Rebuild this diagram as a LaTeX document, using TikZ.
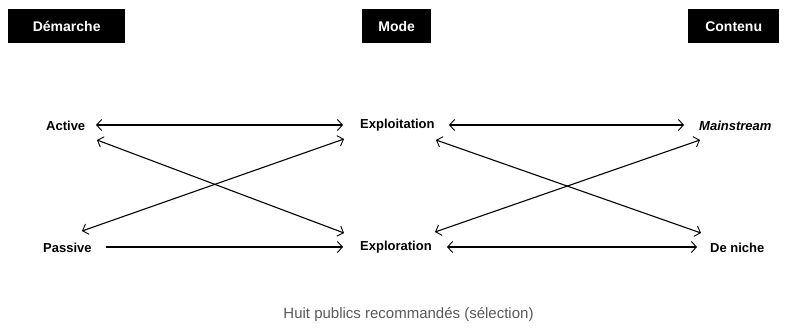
\documentclass[tikz,border=0pt]{standalone}
\usepackage{fontspec}
\setmainfont{Liberation Sans}
\usetikzlibrary{arrows.meta}
\tikzset{
  header/.style={fill=black, text=white, font=\fontsize{14}{16}\selectfont\bfseries, inner sep=0pt, anchor=north west},
  lbl/.style={font=\fontsize{13}{15}\selectfont\bfseries, inner sep=0pt},
  link/.style={line width=1.1pt, black, {Straight Barb[length=5pt,width=11pt,line width=0.9pt]}-{Straight Barb[length=5pt,width=11pt,line width=0.9pt]}},
  onelink/.style={line width=1.1pt, black, -{Straight Barb[length=5pt,width=11pt,line width=0.9pt]}},
  caption/.style={font=\fontsize{15}{17}\selectfont, text=black!65, inner sep=0pt}
}
\begin{document}
\begin{tikzpicture}[x=1pt,y=-1pt]
\useasboundingbox (0,0) rectangle (785,332);
% header boxes
\node[header, minimum width=117pt, minimum height=34pt] (demarche) at (8,9) {Démarche};
\node[header, minimum width=69pt, minimum height=34pt] (mode) at (362,9) {Mode};
\node[header, minimum width=91pt, minimum height=34pt] (contenu) at (688,9) {Contenu};
% labels
\node[lbl, anchor=west] (active) at (46,125.5) {Active};
\node[lbl, anchor=west] (passive) at (43,247.5) {Passive};
\node[lbl, anchor=west] (exploit) at (360,125.5) {Exploitation};
\node[lbl, anchor=west] (explor) at (360,247.5) {Exploration};
\node[lbl, anchor=west] (main) at (699,125.5) {\itshape Mainstream};
\node[lbl, anchor=west] (niche) at (710,247.5) {De niche};
% arrow end points
\coordinate (a1) at (96,125);   \coordinate (e1) at (343,125);
\coordinate (a2) at (97,140);   \coordinate (r1) at (344,233);
\coordinate (p1) at (82,231);   \coordinate (e2) at (344,139);
\coordinate (p2) at (106,247);  \coordinate (r2) at (343,247);
\coordinate (e3) at (449,125);  \coordinate (m1) at (684,125);
\coordinate (e4) at (436,140);  \coordinate (n1) at (701,233);
\coordinate (r3) at (435,232);  \coordinate (m2) at (700,140);
\coordinate (r4) at (447,247);  \coordinate (n2) at (697,247);
% connectors
\draw[link] (a1) -- (e1);
\draw[link] (a2) -- (r1);
\draw[link] (p1) -- (e2);
\draw[onelink] (p2) -- (r2);
\draw[link] (e3) -- (m1);
\draw[link] (e4) -- (n1);
\draw[link] (r3) -- (m2);
\draw[link] (r4) -- (n2);
% caption
\node[caption] (cap) at (408.5,315) {Huit publics recommandés (sélection)};
\end{tikzpicture}
\end{document}
